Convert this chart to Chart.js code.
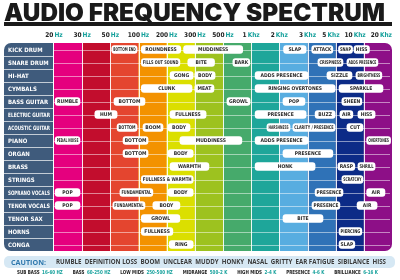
<!DOCTYPE html>
<html>
<head>
<meta charset="utf-8">
<script src="https://cdn.jsdelivr.net/npm/chart.js@4.4.1/dist/chart.umd.min.js"></script>
<style>
  html, body { margin: 0; padding: 0; background: #fff; }
</style>
</head>
<body>
<canvas id="spectrum" width="400" height="280"></canvas>
<script>
const instruments = [
  "KICK DRUM", "SNARE DRUM", "HI-HAT", "CYMBALS", "BASS GUITAR", "ELECTRIC GUITAR",
  "ACOUSTIC GUITAR", "PIANO", "ORGAN", "BRASS", "STRINGS", "SOPRANO VOCALS",
  "TENOR VOCALS", "TENOR SAX", "HORNS", "CONGA"
];

// band edges along the top
const freqNumbers = ["20", "30", "50", "100", "200", "300", "500", "1", "2", "3", "5", "10", "20"];
const freqUnits = ["Hz", "Hz", "Hz", "Hz", "Hz", "Hz", "Hz", "Khz", "Khz", "Khz", "Khz", "Khz", "Khz"];

const bandColors = [
  "#e5007e", "#c20d2d", "#e4452f", "#f39200", "#dbdf00", "#9dc21f",
  "#46aa6b", "#1ea69a", "#58ade0", "#2f72b7", "#0c2b87", "#8d0f87"
];

// [from band, to band, text] for each instrument, same order as instruments
const noteSpans = [
  [[2.05, 2.95, "BOTTOM END"], [3.1, 4.5, "ROUNDNESS"], [4.6, 6.7, "MUDDINESS"], [8.15, 8.95, "SLAP"], [9.15, 9.9, "ATTACK"], [10.1, 10.6, "SNAP"], [10.65, 11.2, "HISS"]],
  [[3.1, 4.47, "FILLS OUT SOUND"], [4.75, 5.7, "BITE"], [6.35, 6.95, "BARK"], [9.37, 10.26, "CRISPNESS"], [10.4, 11.5, "ADDS PRESENCE"]],
  [[4.12, 4.94, "GONG"], [5.0, 5.72, "BODY"], [7.14, 9.02, "ADDS PRESENCE"], [9.69, 10.58, "SIZZLE"], [10.72, 11.64, "BRIGHTNESS"]],
  [[3.1, 4.9, "CLUNK"], [5.0, 5.68, "MEAT"], [7.14, 9.98, "RINGING OVERTONES"], [10.12, 11.68, "SPARKLE"]],
  [[0.04, 0.92, "RUMBLE"], [2.13, 3.23, "BOTTOM"], [6.14, 6.96, "GROWL"], [8.13, 8.91, "POP"], [10.22, 10.93, "SHEEN"]],
  [[1.45, 2.24, "HUM"], [4.12, 5.4, "FULLNESS"], [7.14, 8.95, "PRESENCE"], [9.27, 9.98, "BUZZ"], [10.15, 10.61, "AIR"], [10.79, 11.4, "HISS"]],
  [[2.24, 2.95, "BOTTOM"], [3.16, 3.87, "BOOM"], [4.05, 4.83, "BODY"], [7.56, 8.38, "HARSHNESS"], [8.48, 9.98, "CLARITY / PRESENCE"], [10.4, 10.97, "CUT"]],
  [[0.04, 0.92, "PEDAL NOISE"], [2.45, 3.34, "BOTTOM"], [4.47, 6.67, "MUDDINESS"], [7.14, 9.02, "ADDS PRESENCE"], [11.1, 11.95, "OVERTONES"]],
  [[2.45, 3.34, "BOTTOM"], [4.05, 4.94, "BODY"], [8.13, 9.9, "PRESENCE"]],
  [[4.12, 5.5, "WARMTH"], [7.14, 9.27, "HONK"], [10.08, 10.68, "RASP"], [10.79, 11.4, "SHRILL"]],
  [[3.1, 4.94, "FULLNESS & WARMTH"], [10.22, 10.97, "SCRATCHY"]],
  [[0.04, 0.92, "POP"], [2.34, 3.51, "FUNDAMENTAL"], [4.05, 4.94, "BODY"], [9.27, 10.26, "PRESENCE"], [11.1, 11.75, "AIR"]],
  [[0.04, 0.92, "POP"], [2.09, 3.23, "FUNDAMENTAL"], [3.51, 4.47, "BODY"], [9.16, 10.15, "PRESENCE"], [10.76, 11.47, "AIR"]],
  [[3.1, 4.47, "GROWL"], [8.13, 9.55, "BITE"]],
  [[3.1, 4.22, "FULLNESS"], [10.12, 10.93, "PIERCING"]],
  [[4.09, 4.94, "RING"], [10.12, 10.68, "SLAP"]]
];

const cautionWords = ["RUMBLE", "DEFINITION LOSS", "BOOM", "UNCLEAR", "MUDDY", "HONKY", "NASAL", "GRITTY", "EAR FATIGUE", "SIBILANCE", "HISS"];
const rangeNames = ["SUB BASS", "BASS", "LOW MIDS", "MIDRANGE", "HIGH MIDS", "PRESENCE", "BRILLIANCE"];
const rangeValues = ["16-60 HZ", "60-250 HZ", "250-500 HZ", "500-2 K", "2-4 K", "4-6 K", "6-16 K"];

const NARROW = '"Liberation Sans Narrow", "DejaVu Sans Condensed", "Roboto Condensed", sans-serif';
const TEAL = "#16a19c";

const flatNotes = [];
noteSpans.forEach((row, i) => row.forEach(n => flatNotes.push({ row: i, from: n[0], to: n[1], text: n[2] })));

const backdrop = {
  id: "backdrop",
  beforeDatasetsDraw(chart) {
    const { ctx, chartArea: a, scales: { x, y } } = chart;
    ctx.save();

    // instrument panel
    ctx.fillStyle = "#3f5b7c";
    ctx.beginPath();
    ctx.roundRect(4, a.top, a.left - 5, a.bottom - a.top, [7, 0, 0, 7]);
    ctx.fill();
    ctx.strokeStyle = "#c3ccd6";
    ctx.lineWidth = 1;
    for (let i = 1; i < instruments.length; i++) {
      const yy = Math.round((y.getPixelForValue(i - 1) + y.getPixelForValue(i)) / 2) + 0.5;
      ctx.beginPath();
      ctx.moveTo(4, yy);
      ctx.lineTo(a.left - 1, yy);
      ctx.stroke();
    }
    ctx.fillStyle = "#ffffff";
    ctx.font = "bold 6px " + NARROW;
    ctx.textBaseline = "middle";
    ctx.textAlign = "left";
    instruments.forEach((name, i) => {
      ctx.fillText(name, 8, y.getPixelForValue(i) + 0.5, 42);
    });

    // frequency bands
    bandColors.forEach((c, i) => {
      const x0 = x.getPixelForValue(i), x1 = x.getPixelForValue(i + 1);
      ctx.fillStyle = c;
      ctx.beginPath();
      if (i === bandColors.length - 1) ctx.roundRect(x0, a.top, x1 - x0, a.bottom - a.top, [0, 7, 7, 0]);
      else ctx.rect(x0, a.top, x1 - x0, a.bottom - a.top);
      ctx.fill();
    });
    ctx.strokeStyle = "rgba(255,255,255,0.9)";
    for (let i = 1; i < bandColors.length; i++) {
      const xx = Math.round(x.getPixelForValue(i)) + 0.5;
      ctx.beginPath();
      ctx.moveTo(xx, a.top);
      ctx.lineTo(xx, a.bottom);
      ctx.stroke();
    }
    ctx.strokeStyle = "rgba(255,255,255,0.5)";
    instruments.forEach((name, i) => {
      const yy = Math.round(y.getPixelForValue(i)) + 0.5;
      ctx.beginPath();
      ctx.moveTo(a.left, yy);
      ctx.lineTo(a.right - 2, yy);
      ctx.stroke();
    });
    ctx.restore();
  },
  afterDatasetsDraw(chart) {
    const { ctx } = chart;
    const meta = chart.getDatasetMeta(0);
    ctx.save();
    ctx.fillStyle = "#2b2b2b";
    ctx.font = "bold 5px " + NARROW;
    ctx.textAlign = "center";
    ctx.textBaseline = "middle";
    meta.data.forEach((bar, i) => {
      const w = Math.abs(bar.x - bar.base);
      ctx.fillText(flatNotes[i].text, (bar.x + bar.base) / 2, bar.y + 0.5, w - 3);
    });
    ctx.restore();
  },
  afterDraw(chart) {
    const { ctx, chartArea: a, scales: { x } } = chart;
    ctx.save();

    // title and rule
    const title = "AUDIO FREQUENCY SPECTRUM";
    ctx.font = '900 24px Inter, Lato, "DejaVu Sans", sans-serif';
    ctx.fillStyle = "#1a1a1a";
    ctx.textBaseline = "alphabetic";
    ctx.textAlign = "left";
    const tw = ctx.measureText(title).width;
    ctx.save();
    ctx.translate(4, 20.5);
    ctx.scale(381 / tw, 1);
    ctx.fillText(title, 0, 0);
    ctx.restore();
    ctx.fillRect(4, 22, 388, 4);

    // band edge labels
    ctx.font = "bold 6.5px " + NARROW;
    ctx.textBaseline = "middle";
    const parts = freqNumbers.map((n, i) => {
      const wn = ctx.measureText(n).width;
      const wu = ctx.measureText(freqUnits[i]).width;
      return { n, u: freqUnits[i], wn, wu, w: wn + wu + 1 };
    });
    let limit = a.right;
    for (let i = parts.length - 1; i >= 0; i--) {
      const p = parts[i];
      let left = x.getPixelForValue(i) - p.w / 2;
      if (left + p.w > limit) left = limit - p.w;
      p.left = left;
      limit = left - 5;
    }
    parts.forEach(p => {
      ctx.fillStyle = "#222";
      ctx.fillText(p.n, p.left, 35);
      ctx.fillStyle = TEAL;
      ctx.fillText(p.u, p.left + p.wn + 1, 35);
    });

    // caution strip
    ctx.fillStyle = "#d6e8f4";
    ctx.beginPath();
    ctx.roundRect(4, 256, 391, 12, 5);
    ctx.fill();
    ctx.font = 'bold 7.5px "Open Sans", sans-serif';
    ctx.fillStyle = "#2f78ad";
    ctx.fillText("CAUTION:", 11, 262.5, 35);
    ctx.font = 'bold 6.5px "Open Sans", sans-serif';
    ctx.fillStyle = "#3a3a3a";
    ctx.fillText(cautionWords.join("  "), 56, 262.5, 330);

    // range legend, squeezed to fit its strip
    ctx.font = "bold 5.5px " + NARROW;
    const pieces = rangeNames.map((nm, i) => ({
      nm, val: rangeValues[i],
      w1: ctx.measureText(nm).width,
      w2: ctx.measureText(rangeValues[i]).width
    }));
    const gap = 12;
    const total = pieces.reduce((s, p) => s + p.w1 + 3 + p.w2, 0) + gap * (pieces.length - 1);
    ctx.translate(17, 273);
    ctx.scale(361 / total, 1);
    let cx = 0;
    pieces.forEach(p => {
      ctx.fillStyle = "#222";
      ctx.fillText(p.nm, cx, 0);
      cx += p.w1 + 3;
      ctx.fillStyle = TEAL;
      ctx.fillText(p.val, cx, 0);
      cx += p.w2 + gap;
    });
    ctx.restore();
  }
};

new Chart(document.getElementById("spectrum"), {
  type: "bar",
  data: {
    labels: instruments,
    datasets: [
      {
        label: "Characteristics",
        data: flatNotes.map(n => ({ x: [n.from, n.to], y: instruments[n.row] })),
        backgroundColor: "#ffffff",
        borderWidth: 0,
        borderRadius: 3,
        borderSkipped: false,
        barThickness: 8
      }
    ]
  },
  options: {
    indexAxis: "y",
    responsive: false,
    animation: false,
    devicePixelRatio: 1,
    layout: { padding: { left: 54, right: 8, top: 43, bottom: 29 } },
    scales: {
      x: { type: "linear", min: 0, max: 12, display: false },
      y: { type: "category", display: false }
    },
    plugins: {
      legend: { display: false },
      tooltip: { enabled: false }
    }
  },
  plugins: [backdrop]
});
</script>
</body>
</html>
